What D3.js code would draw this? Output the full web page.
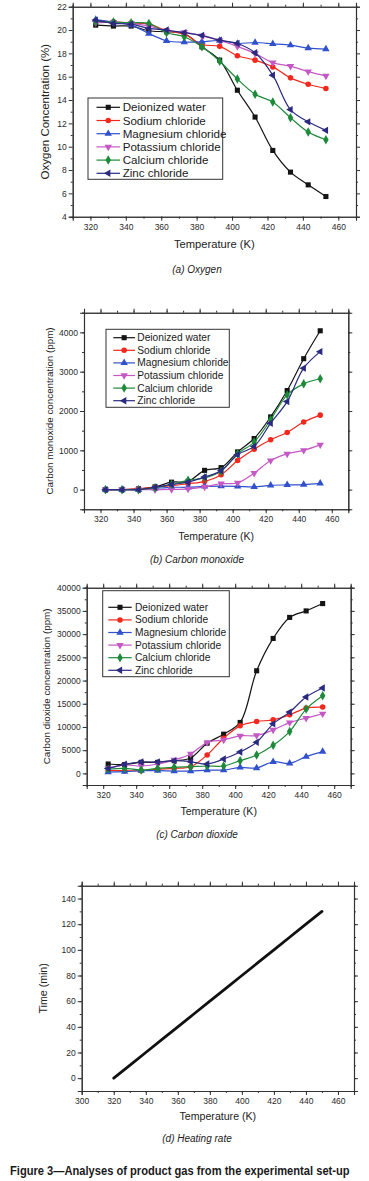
<!DOCTYPE html>
<html>
<head>
<meta charset="utf-8">
<script src="https://cdn.jsdelivr.net/npm/d3@7"></script>
<style>
  html, body { margin: 0; padding: 0; background: #fff; }
  svg { display: block; font-family: "Liberation Sans", Arial, sans-serif; }
</style>
</head>
<body>
<svg id="fig" width="369" height="1181"></svg>
<script>
// ---- data ----
var temps = [323, 333, 343, 353, 363, 373, 383, 393, 403, 413, 423, 433, 443, 453];
var seriesNames = ['Deionized water', 'Sodium chloride', 'Magnesium chloride',
                   'Potassium chloride', 'Calcium chloride', 'Zinc chloride'];

// (a) oxygen, %  (order follows seriesNames)
var oxygen = [
  [20.42, 20.34, 20.34, 19.94, 19.85, 19.70, 18.56, 17.42, 14.84, 12.54, 9.68, 7.82, 6.73, 5.73],
  [20.80, 20.70, 20.60, 20.50, 19.94, 19.65, 18.76, 18.60, 17.80, 17.42, 16.84, 15.90, 15.35, 14.98],
  [20.90, 20.68, 20.42, 19.70, 19.08, 18.96, 19.00, 19.10, 18.85, 18.93, 18.82, 18.70, 18.45, 18.36],
  [20.62, 20.68, 20.57, 20.34, 19.94, 19.80, 19.50, 19.10, 18.60, 17.99, 17.20, 16.90, 16.44, 16.07],
  [20.74, 20.68, 20.62, 20.57, 19.77, 19.42, 18.56, 17.33, 15.80, 14.50, 13.83, 12.49, 11.26, 10.60],
  [20.85, 20.57, 20.50, 20.14, 20.00, 19.77, 19.54, 19.13, 18.85, 18.05, 16.13, 13.18, 12.13, 11.40]
];

// (b) carbon monoxide, ppm
var monoxide = [
  [0, 0, 20, 70, 190, 210, 490, 560, 960, 1300, 1850, 2520, 3330, 4040],
  [0, 0, 25, 60, 100, 150, 210, 380, 740, 1030, 1270, 1455, 1720, 1895],
  [0, 0, 0, 30, 60, 60, 85, 90, 85, 70, 110, 120, 130, 160],
  [0, 0, 0, 0, 5, 20, 70, 150, 170, 420, 740, 910, 1000, 1140],
  [0, 0, 0, 50, 130, 240, 300, 470, 910, 1210, 1780, 2410, 2690, 2820],
  [0, 0, 0, 60, 130, 190, 320, 480, 890, 1100, 1690, 2240, 3090, 3510]
];

// (c) carbon dioxide, ppm
var dioxide = [
  [2020, 1900, 2380, 2380, 2740, 3320, 6500, 8450, 10970, 22100, 29070, 33600, 35000, 36580],
  [580, 580, 580, 870, 1080, 1440, 3970, 7580, 10240, 11170, 11540, 12620, 14070, 14280],
  [290, 360, 580, 580, 510, 510, 720, 720, 1300, 1160, 2510, 2160, 3600, 4680],
  [1080, 1800, 1590, 2020, 2890, 4190, 6640, 7220, 8090, 8160, 9370, 10950, 11900, 12840],
  [870, 1080, 720, 1080, 1300, 1440, 1590, 1590, 2740, 3960, 6060, 9010, 13850, 16730],
  [1080, 1950, 2450, 2450, 2740, 2530, 2020, 3100, 4620, 6710, 10670, 13200, 16450, 18400]
];

// (d) heating rate
var heatTemp = [320, 330, 340, 350, 360, 370, 380, 390, 400, 410, 420, 430, 440, 450];
var heatTime = [0, 10, 20, 30, 40, 50, 60, 70, 80, 90, 100, 110, 120, 130];

// ---- styling ----
var colors  = ['#141414', '#f2281c', '#3050cc', '#c458c4', '#1d8a3a', '#2a2a80'];
var symbols = [d3.symbolSquare, d3.symbolCircle, d3.symbolTriangle, d3.symbolTriangle, d3.symbolDiamond, d3.symbolTriangle];
var rotate  = [0, 0, 0, 180, 0, -90];
var symSize = [26, 24, 24, 24, 26, 24];

var svg = d3.select('#fig');

function drawMarker(g, i, x, y) {
    g.append('path')
        .attr('d', d3.symbol().type(symbols[i]).size(symSize[i])())
        .attr('transform', 'translate(' + x + ',' + y + ') rotate(' + rotate[i] + ')')
        .attr('fill', colors[i]);
}

function axes(g, p, x, y) {
    var ink = '#333';
    var fs = 8.5;
    var bottom = g.append('g').attr('transform', 'translate(0,' + p.bottom + ')');
    bottom.call(d3.axisBottom(x).tickValues(p.xMajor).tickSize(4).tickPadding(3).tickFormat(d3.format('d')));
    bottom.append('g').call(d3.axisBottom(x).tickValues(p.xMinor).tickSize(2).tickFormat(''));
    var left = g.append('g').attr('transform', 'translate(' + p.left + ',0)');
    left.call(d3.axisLeft(y).tickValues(p.yMajor).tickSize(4).tickPadding(2).tickFormat(d3.format('d')));
    left.append('g').call(d3.axisLeft(y).tickValues(p.yMinor).tickSize(2).tickFormat(''));
    var top = g.append('g').attr('transform', 'translate(0,' + p.top + ')');
    top.call(d3.axisTop(x).tickValues(p.xMajor).tickSize(4).tickFormat(''));
    top.append('g').call(d3.axisTop(x).tickValues(p.xMinor).tickSize(2).tickFormat(''));
    var right = g.append('g').attr('transform', 'translate(' + p.right + ',0)');
    right.call(d3.axisRight(y).tickValues(p.yMajor).tickSize(4).tickFormat(''));
    right.append('g').call(d3.axisRight(y).tickValues(p.yMinor).tickSize(2).tickFormat(''));

    g.selectAll('.domain').attr('stroke', ink).attr('stroke-width', 1.1);
    g.selectAll('.tick line').attr('stroke', ink);
    g.selectAll('.tick text').attr('fill', '#2a2a2a').attr('font-size', fs + 'px')
        .attr('font-family', '"Liberation Sans", Arial, sans-serif');
}

function titles(g, p) {
    g.append('text')
        .attr('transform', 'translate(' + p.yLabelX + ',' + ((p.top + p.bottom) / 2) + ') rotate(-90)')
        .attr('text-anchor', 'middle').attr('dy', '0.35em')
        .attr('font-size', p.yLabelSize + 'px').attr('fill', '#222')
        .text(p.yLabel);
    g.append('text')
        .attr('x', (p.left + p.right) / 2).attr('y', p.xLabelY).attr('dy', '0.35em')
        .attr('text-anchor', 'middle').attr('font-size', p.xLabelSize + 'px').attr('fill', '#222')
        .text('Temperature (K)');
    g.append('text')
        .attr('x', 197).attr('y', p.captionY).attr('dy', '0.35em')
        .attr('text-anchor', 'middle').attr('font-size', '10px').attr('font-style', 'italic').attr('fill', '#222')
        .text(p.caption);
}

function legend(g, L) {
    g.append('rect').attr('x', L.x).attr('y', L.y).attr('width', L.w).attr('height', L.h)
        .attr('fill', '#fff').attr('stroke', '#333').attr('stroke-width', 1);
    seriesNames.forEach(function(name, i) {
        var yy = L.row0 + i * L.step;
        g.append('line').attr('x1', L.lx0).attr('x2', L.lx1).attr('y1', yy).attr('y2', yy)
            .attr('stroke', colors[i]).attr('stroke-width', 1.2);
        drawMarker(g, i, (L.lx0 + L.lx1) / 2, yy);
        g.append('text').attr('x', L.tx).attr('y', yy).attr('dy', '0.35em')
            .attr('font-size', L.fs + 'px').attr('fill', '#1a1a1a').text(name);
    });
}

function seriesPanel(p, values) {
    var g = svg.append('g');
    var x = d3.scaleLinear().domain(p.xDomain).range([p.left, p.right]);
    var y = d3.scaleLinear().domain(p.yDomain).range([p.bottom, p.top]);
    axes(g, p, x, y);
    var line = d3.line().x(function(d, j) { return x(temps[j]); }).y(function(d) { return y(d); })
        .curve(d3.curveCatmullRom.alpha(0.5));
    values.forEach(function(vals, i) {
        g.append('path').datum(vals).attr('d', line)
            .attr('fill', 'none').attr('stroke', colors[i]).attr('stroke-width', 1.2);
        vals.forEach(function(v, j) { drawMarker(g, i, x(temps[j]), y(v)); });
    });
    legend(g, p.legend);
    titles(g, p);
}

var panelA = {
    left: 72.7, right: 356, top: 6.7, bottom: 216.7,
    xDomain: [310, 470], yDomain: [4, 22],
    xMajor: d3.range(320, 461, 20), xMinor: d3.range(310, 471, 10),
    yMajor: d3.range(4, 23, 2), yMinor: d3.range(5, 22, 2),
    yLabel: 'Oxygen Concentration (%)', yLabelX: 45, yLabelSize: 11.5,
    xLabelY: 244, xLabelSize: 11.2, caption: '(a) Oxygen', captionY: 269,
    legend: { x: 88, y: 98, w: 134.7, h: 81.3, row0: 107.3, step: 13.2, fs: 11.6, lx0: 96.5, lx1: 120, tx: 122.7 }
};
var panelB = {
    left: 84, right: 348.3, top: 312.7, bottom: 509.3,
    xDomain: [310, 470], yDomain: [-500, 4500],
    xMajor: d3.range(320, 461, 20), xMinor: d3.range(310, 471, 10),
    yMajor: d3.range(0, 4001, 1000), yMinor: d3.range(-500, 4501, 500),
    yLabel: 'Carbon monoxide concentration (ppm)', yLabelX: 50, yLabelSize: 9.8,
    xLabelY: 536, xLabelSize: 10.5, caption: '(b) Carbon monoxide', captionY: 559,
    legend: { x: 106, y: 329.3, w: 123.3, h: 78, row0: 337.7, step: 12.6, fs: 10.2, lx0: 113.3, lx1: 135, tx: 137.3 }
};
var panelC = {
    left: 86.7, right: 350.7, top: 587.7, bottom: 785,
    xDomain: [310, 470], yDomain: [-2500, 40000],
    xMajor: d3.range(320, 461, 20), xMinor: d3.range(310, 471, 10),
    yMajor: d3.range(0, 40001, 5000), yMinor: d3.range(-2500, 40001, 2500),
    yLabel: 'Carbon dioxide concentration (ppm)', yLabelX: 47, yLabelSize: 9.8,
    xLabelY: 811, xLabelSize: 10.6, caption: '(c) Carbon dioxide', captionY: 834.3,
    legend: { x: 102.7, y: 590.7, w: 126.6, h: 86, row0: 607.3, step: 12.6, fs: 10.2, lx0: 108.3, lx1: 131.7, tx: 135 }
};

seriesPanel(panelA, oxygen);
seriesPanel(panelB, monoxide);
seriesPanel(panelC, dioxide);

// (d) heating rate
var panelD = {
    left: 81.7, right: 354, top: 885.7, bottom: 1091,
    xDomain: [300, 470], yDomain: [-10, 150],
    xMajor: d3.range(300, 461, 20), xMinor: d3.range(310, 471, 10),
    yMajor: d3.range(0, 141, 20), yMinor: d3.range(-10, 151, 10),
    yLabel: 'Time (min)', yLabelX: 43, yLabelSize: 10.6,
    xLabelY: 1116, xLabelSize: 10.6, caption: '(d) Heating rate', captionY: 1138
};
(function() {
    var p = panelD;
    var g = svg.append('g');
    var x = d3.scaleLinear().domain(p.xDomain).range([p.left, p.right]);
    var y = d3.scaleLinear().domain(p.yDomain).range([p.bottom, p.top]);
    axes(g, p, x, y);
    var line = d3.line().x(function(d, j) { return x(heatTemp[j]); }).y(function(d) { return y(d); });
    g.append('path').datum(heatTime).attr('d', line)
        .attr('fill', 'none').attr('stroke', '#111').attr('stroke-width', 2.8).attr('stroke-linecap', 'round');
    titles(g, p);
})();

// figure caption: squeeze horizontally to the width it has in the scan
var cap = svg.append('text')
    .attr('x', 0).attr('y', 0).attr('dy', '0.35em')
    .attr('font-size', '12.5px').attr('font-weight', 'bold').attr('fill', '#1a1a1a')
    .text('Figure 3\u2014Analyses of product gas from the experimental set-up');
var capW = cap.node().getComputedTextLength();
cap.attr('transform', 'translate(10,1171) scale(' + (340 / capW) + ',1)');
</script>
</body>
</html>
